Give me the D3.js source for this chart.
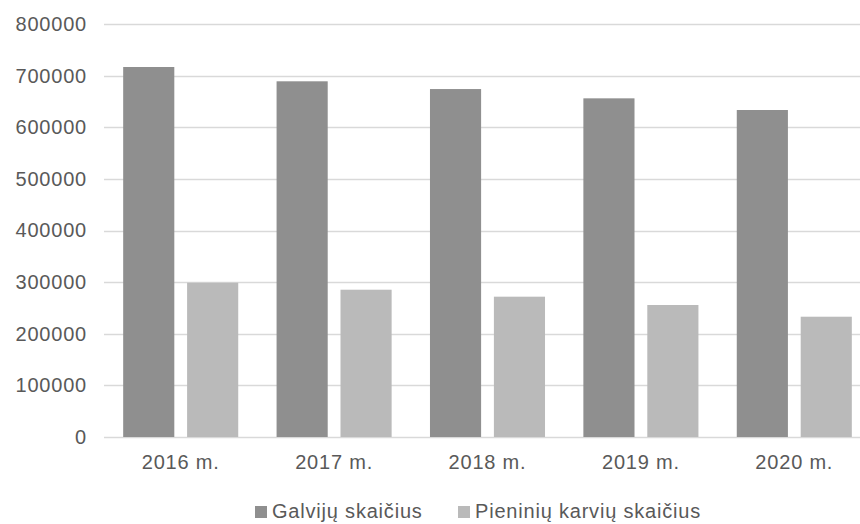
<!DOCTYPE html>
<html>
<head>
<meta charset="utf-8">
<script src="https://cdn.jsdelivr.net/npm/d3@7"></script>
<style>
  body { margin: 0; background: #fff; }
  svg { display: block; font-family: "Liberation Sans", Arial, sans-serif; }
  .lbl { font-size: 20px; letter-spacing: 0.8px; fill: #595959; }
</style>
</head>
<body>
<svg id="chart" width="860" height="524"></svg>
<script>
// data
const years = ['2016 m.', '2017 m.', '2018 m.', '2019 m.', '2020 m.'];
const seriesNames = ['Galvijų skaičius', 'Pieninių karvių skaičius'];
const galvijai = [716700, 689000, 674000, 656000, 633400];
const karves = [298900, 285300, 271800, 255700, 233000];
const yTicks = [0, 100000, 200000, 300000, 400000, 500000, 600000, 700000, 800000];

const colors = ['#8f8f8f', '#bababa'];
const rows = years.map((y, i) => ({ year: y, values: [galvijai[i], karves[i]] }));

// svg config
const margin = { left: 104, right: -11, top: 24, bottom: 87 };
const width = 860, height = 524;

const svg = d3.select('#chart');

const x = d3.scaleBand()
  .domain(years)
  .range([margin.left, width - margin.right])
  .paddingInner(0.25)
  .paddingOuter(0.125);
const xInner = d3.scaleBand()
  .domain([0, 1])
  .range([0, x.bandwidth()])
  .paddingInner(0.2);
const y = d3.scaleLinear()
  .domain([0, 800000])
  .range([height - margin.bottom, margin.top]);

// gridlines
svg.append('g')
  .selectAll('line')
  .data(yTicks)
  .join('line')
  .attr('x1', margin.left)
  .attr('x2', width - margin.right)
  .attr('y1', d => Math.round(y(d)) + 0.5)
  .attr('y2', d => Math.round(y(d)) + 0.5)
  .attr('stroke', '#d9d9d9')
  .attr('stroke-width', 1.5);

// y axis labels
const yAxis = d3.axisLeft(y)
  .tickValues(yTicks)
  .tickSize(0)
  .tickPadding(0)
  .tickFormat(d => d);
const yAxisNode = svg.append('g')
  .attr('transform', `translate(87,0)`)
  .call(yAxis);
yAxisNode.select('.domain').remove();
yAxisNode.attr('font-size', null).attr('font-family', null);
yAxisNode.selectAll('text').attr('class', 'lbl').attr('fill', null);

// bars
const groups = svg.append('g')
  .selectAll('g')
  .data(rows)
  .join('g')
  .attr('transform', d => `translate(${x(d.year)},0)`);

groups.selectAll('rect')
  .data(d => d.values)
  .join('rect')
  .attr('x', (d, i) => xInner(i))
  .attr('width', xInner.bandwidth())
  .attr('y', d => y(d))
  .attr('height', d => y(0) - y(d))
  .attr('fill', (d, i) => colors[i]);

// x axis labels
const xAxis = d3.axisBottom(x).tickSize(0).tickPadding(0);
const xAxisNode = svg.append('g')
  .attr('transform', `translate(0,${y(0)})`)
  .call(xAxis);
xAxisNode.select('.domain').remove();
xAxisNode.attr('font-size', null).attr('font-family', null);
xAxisNode.selectAll('text')
  .attr('dy', null)
  .attr('y', 32)
  .attr('class', 'lbl')
  .attr('fill', null);

// legend
const legendX = [255, 458];
const legend = svg.append('g')
  .selectAll('g')
  .data(seriesNames)
  .join('g')
  .attr('transform', (d, i) => `translate(${legendX[i]},0)`);
legend.append('rect')
  .attr('x', 0)
  .attr('y', 506)
  .attr('width', 12)
  .attr('height', 12)
  .attr('fill', (d, i) => colors[i]);
legend.append('text')
  .attr('class', 'lbl')
  .attr('x', 17)
  .attr('y', 518)
  .text(d => d);
</script>
</body>
</html>
